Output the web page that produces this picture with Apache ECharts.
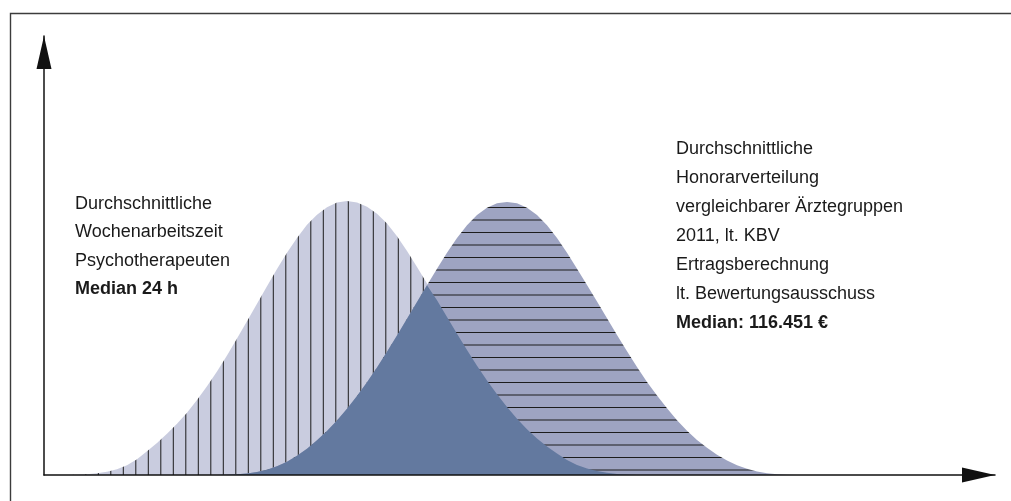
<!DOCTYPE html>
<html>
<head>
<meta charset="utf-8">
<script src="https://cdn.jsdelivr.net/npm/echarts@6/dist/echarts.min.js"></script>
<style>
html,body{margin:0;padding:0;background:#fff;}
#chart{width:1011px;height:501px;}
</style>
</head>
<body>
<div id="chart"></div>
<script>
// Sampling grid on the (unlabelled) horizontal axis: first position and step
const xFirst = 2.3;
const xStep = 1;

// Left distribution: weekly working hours of psychotherapists (relative frequency)
const workHours = [
  0, 0.05, 0.15, 0.4, 0.75, 1.3, 2.2, 3.6, 5.4, 7.3,
  9.4, 11.7, 14.2, 17.1, 20.2, 23.6, 27.2, 31.1, 35.0, 39.0,
  43.0, 46.9, 50.6, 54.0, 57.0, 59.3, 61.0, 62.1, 62.4, 62.1,
  61.1, 59.5, 57.3, 54.4, 51.0, 47.4, 43.6, 39.8, 36.0, 32.2,
  28.5, 24.9, 21.5, 18.4, 15.5, 12.8, 10.4, 8.3, 6.5, 4.9,
  3.4, 2.3, 1.5, 0.9, 0.5, 0.25, 0.1, 0, 0, 0,
  0, 0, 0, 0, 0, 0, 0, 0, 0, 0,
  0, 0, 0, 0, 0
];

// Right distribution: fee distribution of comparable physician groups (relative frequency)
const income = [
  0, 0, 0, 0, 0, 0, 0, 0, 0, 0,
  0, 0, 0, 0, 0, 0, 0.05, 0.15, 0.35, 0.7,
  1.2, 2.0, 3.0, 4.4, 6.0, 7.9, 10.0, 12.4, 15.1, 18.0,
  21.1, 24.5, 28.1, 31.8, 35.6, 39.4, 43.2, 47.0, 50.6, 54.0,
  56.9, 59.2, 60.9, 61.9, 62.2, 61.9, 60.9, 59.2, 56.9, 54.0,
  50.6, 47.0, 43.3, 39.5, 35.7, 31.9, 28.2, 24.6, 21.2, 18.1,
  15.2, 12.5, 10.1, 8.0, 6.2, 4.6, 3.3, 2.2, 1.4, 0.8,
  0.4, 0.15, 0.05, 0, 0
];

// Annotation texts
const leftLabel = ['Durchschnittliche', 'Wochenarbeitszeit', 'Psychotherapeuten'];
const leftMedian = 'Median 24 h';
const rightLabel = ['Durchschnittliche', 'Honorarverteilung', 'vergleichbarer Ärztegruppen',
                    '2011, lt. KBV', 'Ertragsberechnung', 'lt. Bewertungsausschuss'];
const rightMedian = 'Median: 116.451 €';

// ---- build ----
const xs = workHours.map((_, i) => +(xFirst + i * xStep).toFixed(2));
const s1 = xs.map((x, i) => [x, workHours[i]]);
const s2 = xs.map((x, i) => [x, income[i]]);
const s3 = xs.map((x, i) => [x, Math.min(workHours[i], income[i])]);

function verticalHatch() {
  const c = document.createElement('canvas');
  c.width = 25; c.height = 10;
  const g = c.getContext('2d');
  g.fillStyle = '#c9ccdf'; g.fillRect(0, 0, 25, 10);
  g.fillStyle = '#1c1c1c';
  g.fillRect(10.3, 0, 1, 10);
  g.fillRect(22.8, 0, 1, 10);
  return c;
}
function horizontalHatch() {
  const c = document.createElement('canvas');
  c.width = 10; c.height = 25;
  const g = c.getContext('2d');
  g.fillStyle = '#9ea4c2'; g.fillRect(0, 0, 10, 25);
  g.fillStyle = '#1c1c1c';
  g.fillRect(0, 7, 10, 1);
  g.fillRect(0, 19.5, 10, 1);
  return c;
}

const FONT = '"Liberation Sans", Arial, sans-serif';
const texts = [];
leftLabel.forEach((t, i) => texts.push({text: t, x: 75, y: 204 + i * 28.5, bold: false}));
texts.push({text: leftMedian, x: 75, y: 204 + 3 * 28.5, bold: true});
rightLabel.forEach((t, i) => texts.push({text: t, x: 676, y: 149.5 + i * 29, bold: false}));
texts.push({text: rightMedian, x: 676, y: 149.5 + 6 * 29, bold: true});

const graphic = [{
  type: 'polyline',
  shape: {points: [[10.5, 501], [10.5, 13.5], [1011, 13.5]]},
  style: {stroke: '#3c3c3c', lineWidth: 1.4, fill: null},
  silent: true, z: 100
}].concat(texts.map(t => ({
  type: 'text',
  silent: true, z: 100,
  style: {
    text: t.text, x: t.x, y: t.y,
    fontSize: 18, fontFamily: FONT, fontWeight: t.bold ? 'bold' : 'normal',
    fill: '#1a1a1a', align: 'left', verticalAlign: 'middle'
  }
})));

const chart = echarts.init(document.getElementById('chart'), null, {renderer: 'canvas'});
chart.setOption({
  animation: false,
  backgroundColor: '#ffffff',
  grid: {left: 44, right: 16, top: 36, bottom: 26, containLabel: false},
  xAxis: {
    type: 'value', min: 0, max: 95.1, z: 10,
    axisLine: {show: true, onZero: false, lineStyle: {color: '#111', width: 1.5},
      symbol: ['none', 'triangle'], symbolSize: [15, 33], symbolOffset: [0, -16.5]},
    axisTick: {show: false}, axisLabel: {show: false}, splitLine: {show: false}
  },
  yAxis: {
    type: 'value', min: 0, max: 100, z: 10,
    axisLine: {show: true, onZero: false, lineStyle: {color: '#111', width: 1.5},
      symbol: ['none', 'triangle'], symbolSize: [15, 33], symbolOffset: [0, -16.5]},
    axisTick: {show: false}, axisLabel: {show: false}, splitLine: {show: false}
  },
  series: [
    {type: 'line', data: s1, showSymbol: false, silent: true,
     lineStyle: {width: 0}, areaStyle: {color: {image: verticalHatch(), repeat: 'repeat'}, opacity: 1}},
    {type: 'line', data: s2, showSymbol: false, silent: true,
     lineStyle: {width: 0}, areaStyle: {color: {image: horizontalHatch(), repeat: 'repeat'}, opacity: 1}},
    {type: 'line', data: s3, showSymbol: false, silent: true,
     lineStyle: {width: 0}, areaStyle: {color: '#63799f', opacity: 1}}
  ],
  graphic: graphic
});
</script>
</body>
</html>
